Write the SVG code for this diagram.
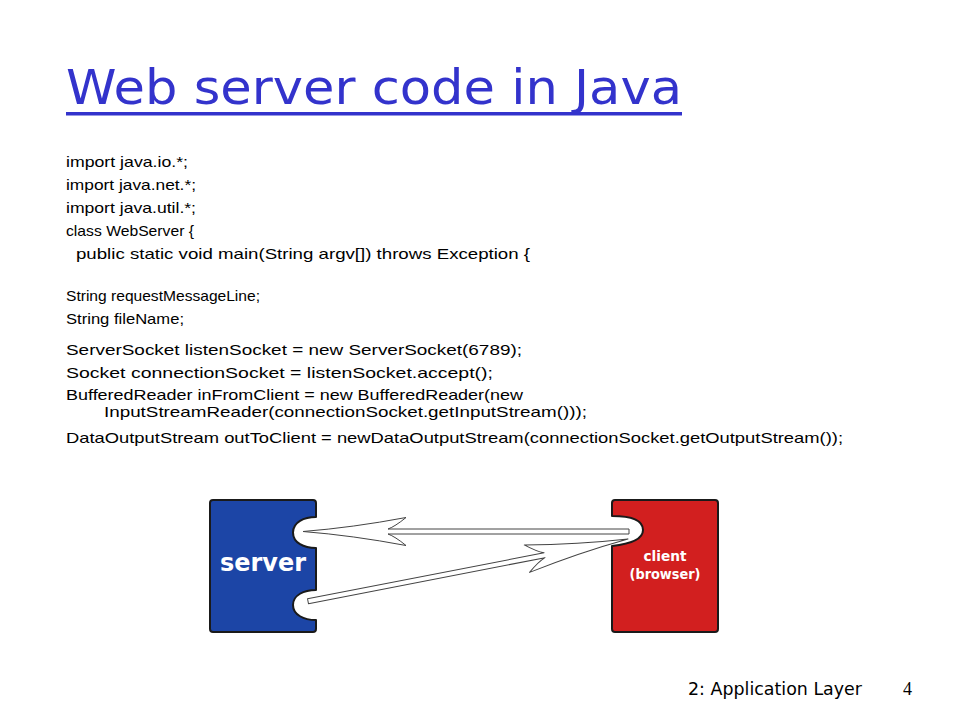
<svg xmlns="http://www.w3.org/2000/svg" width="960" height="720" viewBox="0 0 960 720">
<defs>
<style>
.title{font-family:"DejaVu Sans","Liberation Sans",sans-serif;font-size:48px;fill:#3333cc}
.code{font-family:"Liberation Sans","DejaVu Sans",sans-serif;font-size:15px;fill:#000}
.foot{font-family:"DejaVu Sans","Liberation Sans",sans-serif;font-size:18px;fill:#000}
.num{font-family:"Liberation Serif",serif;font-size:18px;fill:#000}
.lbl{font-family:"DejaVu Sans","Liberation Sans",sans-serif;font-weight:bold;fill:#fff;text-anchor:middle}
.box{stroke:#1a1a1a;stroke-width:2;stroke-linejoin:round}
.arrow{fill:#fff;stroke:#444;stroke-width:1;stroke-linejoin:round}
</style>
<path id="arr" d="M 0 0 Q -50 -4 -103 -14 Q -92 -5 -85 -2.5 L -326 -2.5 L -326 2.5 L -85 2.5 Q -92 5 -103 14 Q -50 4 0 0 Z"/>
</defs>
<rect width="960" height="720" fill="#fff"/>

<g id="title">
<text class="title" x="66" y="104" textLength="616" lengthAdjust="spacingAndGlyphs">Web server code in Java</text>
<rect x="66" y="112" width="616" height="3.5" fill="#3333cc"/>
</g>

<g id="code">
<text class="code" x="66" y="167" textLength="122" lengthAdjust="spacingAndGlyphs">import java.io.*;</text>
<text class="code" x="66" y="190" textLength="130" lengthAdjust="spacingAndGlyphs">import java.net.*;</text>
<text class="code" x="66" y="213" textLength="130" lengthAdjust="spacingAndGlyphs">import java.util.*;</text>
<text class="code" x="66" y="236" textLength="128" lengthAdjust="spacingAndGlyphs">class WebServer {</text>
<text class="code" x="76" y="259" textLength="454" lengthAdjust="spacingAndGlyphs">public static void main(String argv[]) throws Exception {</text>
<text class="code" x="66" y="301" textLength="194" lengthAdjust="spacingAndGlyphs">String requestMessageLine;</text>
<text class="code" x="66" y="324" textLength="118" lengthAdjust="spacingAndGlyphs">String fileName;</text>
<text class="code" x="66" y="355" textLength="456" lengthAdjust="spacingAndGlyphs">ServerSocket listenSocket = new ServerSocket(6789);</text>
<text class="code" x="66" y="378" textLength="427" lengthAdjust="spacingAndGlyphs">Socket connectionSocket = listenSocket.accept();</text>
<text class="code" x="66" y="400" textLength="457" lengthAdjust="spacingAndGlyphs">BufferedReader inFromClient = new BufferedReader(new</text>
<text class="code" x="104" y="417" textLength="483" lengthAdjust="spacingAndGlyphs">InputStreamReader(connectionSocket.getInputStream()));</text>
<text class="code" x="66" y="443" textLength="777" lengthAdjust="spacingAndGlyphs">DataOutputStream outToClient = newDataOutputStream(connectionSocket.getOutputStream());</text>
</g>

<g id="server">
<path class="box" fill="#1c45a6" d="M 213 500 H 313 Q 316 500 316 503 V 517 C 304 517 293 522 293 532.5 C 293 543 304 548 316 548 V 590 C 304 590 293 595 293 605 C 293 615 304 620 316 620 V 629 Q 316 632 313 632 H 213 Q 210 632 210 629 V 503 Q 210 500 213 500 Z"/>
<text class="lbl" x="263" y="571" font-size="24" textLength="86" lengthAdjust="spacingAndGlyphs">server</text>
</g>

<g id="client">
<path class="box" fill="#d21f1f" d="M 615 500 H 715 Q 718 500 718 503 V 629 Q 718 632 715 632 H 615 Q 612 632 612 629 V 546 C 630 544 643 539 643 530 C 643 520 630 516 612 516 V 503 Q 612 500 615 500 Z"/>
<text class="lbl" x="665" y="561" font-size="14" textLength="43" lengthAdjust="spacingAndGlyphs">client</text>
<text class="lbl" x="665" y="579" font-size="14" textLength="71" lengthAdjust="spacingAndGlyphs">(browser)</text>
</g>

<g id="connectors">
<use href="#arr" class="arrow" transform="translate(303,531.5) rotate(180)"/>
<use href="#arr" class="arrow" transform="translate(628,539) rotate(-11)"/>
</g>

<g id="footer">
<text class="foot" x="688" y="695" textLength="174" lengthAdjust="spacingAndGlyphs">2: Application Layer</text>
<text class="num" x="903" y="695">4</text>
</g>
</svg>
